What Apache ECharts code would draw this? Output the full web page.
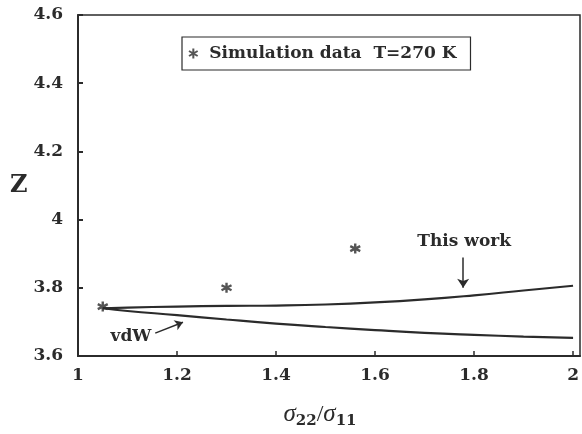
<!DOCTYPE html>
<html>
<head>
<meta charset="utf-8">
<script src="https://cdn.jsdelivr.net/npm/echarts@6/dist/echarts.min.js"></script>
<style>
html, body { margin: 0; padding: 0; background: #fff; }
#chart { width: 582px; height: 434px; }
</style>
</head>
<body>
<div id="chart"></div>
<script>
// sigma22/sigma11 values where the curves were read
var ratio = [1.05, 1.1, 1.2, 1.3, 1.4, 1.5, 1.6, 1.7, 1.8, 1.9, 2.0];
var thisWork = [3.740, 3.742, 3.745, 3.747, 3.748, 3.751, 3.757, 3.766, 3.778, 3.792, 3.806];
var vdW = [3.740, 3.732, 3.720, 3.707, 3.695, 3.685, 3.676, 3.668, 3.662, 3.657, 3.653];
// simulation points
var simRatio = [1.05, 1.3, 1.56];
var simZ = [3.745, 3.8, 3.915];

var ink = '#2b2b2b';
var serif = '"DejaVu Serif", "Liberation Serif", serif';
var asterisk = 'path://M0,-10L0,10M-8.66,-5L8.66,5M-8.66,5L8.66,-5';

function pairs(xs, ys) {
  return xs.map(function (x, i) { return [x, ys[i]]; });
}

var chart = echarts.init(document.getElementById('chart'));
chart.setOption({
  animation: false,
  backgroundColor: '#fff',
  grid: {
    left: 78, top: 15, right: 2, bottom: 77,
    show: true, borderColor: ink, borderWidth: 1.5
  },
  legend: {
    left: 182, top: 37,
    padding: [8, 14, 8, 6],
    borderColor: ink, borderWidth: 1.2,
    itemWidth: 10, itemHeight: 10, itemGap: 6,
    textStyle: { fontFamily: serif, fontWeight: 'bold', fontSize: 17, color: ink, padding: [0, 0, 0, 6] },
    data: [{ name: 'Simulation data  T=270 K', icon: asterisk }]
  },
  xAxis: {
    type: 'value', min: 1, max: 2.014, interval: 0.2,
    name: '{s|σ}{b|22}{t|/}{s|σ}{b|11}',
    nameLocation: 'middle', nameGap: 44,
    nameTextStyle: {
      padding: [0, 18, 0, 0],
      rich: {
        s: { fontFamily: '"Liberation Serif", serif', fontStyle: 'italic', fontSize: 25, color: ink },
        t: { fontFamily: '"Liberation Serif", serif', fontSize: 24, color: ink },
        b: { fontFamily: serif, fontWeight: 'bold', fontSize: 15, color: ink, padding: [14, 0, 0, 0] }
      }
    },
    axisLine: { lineStyle: { color: ink, width: 2 } },
    axisTick: { inside: true, length: 5, lineStyle: { color: ink, width: 1.5 } },
    axisLabel: { showMaxLabel: false, margin: 11, fontFamily: serif, fontWeight: 'bold', fontSize: 17, color: ink },
    splitLine: { show: false }
  },
  yAxis: {
    type: 'value', min: 3.6, max: 4.6, interval: 0.2,
    name: 'Z', nameLocation: 'middle', nameGap: 48, nameRotate: 0,
    nameTextStyle: { fontFamily: serif, fontWeight: 'bold', fontSize: 24, color: ink },
    axisLine: { lineStyle: { color: ink, width: 2 } },
    axisTick: { inside: true, length: 5, lineStyle: { color: ink, width: 2 } },
    axisLabel: { margin: 15, fontFamily: serif, fontWeight: 'bold', fontSize: 17, color: ink },
    splitLine: { show: false }
  },
  series: [
    {
      name: 'Simulation data  T=270 K',
      type: 'scatter',
      symbol: asterisk,
      symbolSize: 10,
      itemStyle: { color: ink, borderColor: ink, borderWidth: 2.4 },
      data: pairs(simRatio, simZ),
      z: 5
    },
    {
      name: 'This work',
      type: 'line',
      showSymbol: false,
      smooth: true,
      lineStyle: { color: ink, width: 2.2 },
      data: pairs(ratio, thisWork),
      markLine: {
        silent: true,
        symbol: ['none', 'arrow'], symbolSize: 9,
        label: { show: false },
        lineStyle: { color: ink, width: 1.5, type: 'solid' },
        data: [[{ coord: [1.778, 3.889] }, { coord: [1.778, 3.800] }]]
      },
      markPoint: {
        silent: true,
        symbol: 'circle', symbolSize: 0,
        label: {
          show: true, position: 'inside', formatter: 'This work',
          fontFamily: serif, fontWeight: 'bold', fontSize: 17, color: ink
        },
        data: [{ coord: [1.78, 3.936] }]
      }
    },
    {
      name: 'vdW',
      type: 'line',
      showSymbol: false,
      smooth: true,
      lineStyle: { color: ink, width: 2.2 },
      data: pairs(ratio, vdW),
      markLine: {
        silent: true,
        symbol: ['none', 'arrow'], symbolSize: 8,
        label: { show: false },
        lineStyle: { color: ink, width: 1.5, type: 'solid' },
        data: [[{ coord: [1.156, 3.667] }, { coord: [1.212, 3.699] }]]
      },
      markPoint: {
        silent: true,
        symbol: 'circle', symbolSize: 0,
        label: {
          show: true, position: 'inside', formatter: 'vdW',
          fontFamily: serif, fontWeight: 'bold', fontSize: 17, color: ink
        },
        data: [{ coord: [1.107, 3.658] }]
      }
    }
  ]
});
</script>
</body>
</html>
